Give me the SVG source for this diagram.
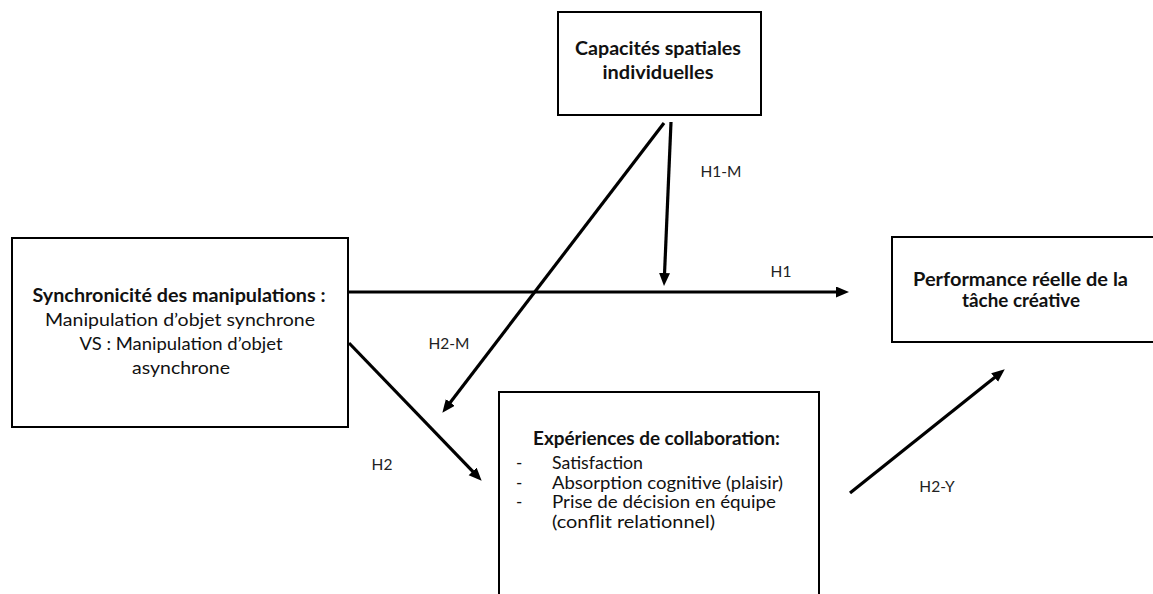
<svg xmlns="http://www.w3.org/2000/svg" width="1153" height="594" viewBox="0 0 1153 594">
<style>
.box{fill:#fff;stroke:#000;stroke-width:2}
.t{font-family:Lato,"Liberation Sans",sans-serif;font-size:17px;fill:#111}
.l{font-size:18px}
.b{font-weight:bold;font-size:18.5px}
.c{text-anchor:middle}
.lbl{font-family:Lato,"Liberation Sans",sans-serif;font-size:15.5px;fill:#222;text-anchor:middle}
.ar{stroke:#000;stroke-width:3.2;fill:none;marker-end:url(#ah)}
</style>
<defs>
<marker id="ah" markerUnits="userSpaceOnUse" markerWidth="15" markerHeight="13" refX="6" refY="5.5" orient="auto">
<path d="M0,0 L13,5.5 L0,11 z" fill="#000"/>
</marker>
</defs>
<rect width="1153" height="594" fill="#fff"/>
<g id="connectors">
<line class="ar" x1="348" y1="292" x2="842" y2="292"/>
<line class="ar" x1="671" y1="122" x2="664.3" y2="279"/>
<line class="ar" x1="664" y1="123" x2="446.6" y2="407.2"/>
<line class="ar" x1="349" y1="343" x2="476.8" y2="475.7"/>
<line class="ar" x1="850" y1="493" x2="999.3" y2="373.7"/>
</g>
<g id="node-capacites">
<rect class="box" x="558" y="12" width="203" height="103"/>
<text class="t b c" x="658" y="55" textLength="166" lengthAdjust="spacingAndGlyphs">Capacités spatiales</text>
<text class="t b c" x="658" y="79" textLength="111" lengthAdjust="spacingAndGlyphs">individuelles</text>
</g>
<g id="node-synchronicite">
<rect class="box" x="12" y="238" width="336" height="189"/>
<text class="t b c" x="179" y="302" textLength="293" lengthAdjust="spacingAndGlyphs">Synchronicité des manipulations :</text>
<text class="t l c" x="180" y="326" textLength="270" lengthAdjust="spacingAndGlyphs">Manipulation d’objet synchrone</text>
<text class="t l c" x="181" y="350" textLength="203" lengthAdjust="spacingAndGlyphs">VS : Manipulation d’objet</text>
<text class="t l c" x="181" y="374" textLength="98" lengthAdjust="spacingAndGlyphs">asynchrone</text>
</g>
<g id="node-performance">
<rect class="box" x="892" y="237" width="270" height="105"/>
<text class="t b c" x="1020.5" y="286" textLength="215" lengthAdjust="spacingAndGlyphs">Performance réelle de la</text>
<text class="t b c" x="1021" y="307" textLength="118" lengthAdjust="spacingAndGlyphs">tâche créative</text>
</g>
<g id="node-experiences">
<rect class="box" x="499" y="392" width="320" height="220"/>
<text class="t b" x="533" y="445" textLength="247" lengthAdjust="spacingAndGlyphs">Expériences de collaboration:</text>
<text class="t" x="516" y="469">-</text>
<text class="t" x="552" y="469" textLength="91" lengthAdjust="spacingAndGlyphs">Satisfaction</text>
<text class="t" x="516" y="488.5">-</text>
<text class="t" x="552" y="488.5" textLength="231" lengthAdjust="spacingAndGlyphs">Absorption cognitive (plaisir)</text>
<text class="t" x="516" y="508">-</text>
<text class="t" x="552" y="508" textLength="224" lengthAdjust="spacingAndGlyphs">Prise de décision en équipe</text>
<text class="t" x="552" y="527.5" textLength="163" lengthAdjust="spacingAndGlyphs">(conflit relationnel)</text>
</g>
<g id="labels">
<text class="lbl" x="721" y="177">H1-M</text>
<text class="lbl" x="781" y="277">H1</text>
<text class="lbl" x="449" y="349">H2-M</text>
<text class="lbl" x="382" y="470">H2</text>
<text class="lbl" x="937" y="492">H2-Y</text>
</g>
</svg>
